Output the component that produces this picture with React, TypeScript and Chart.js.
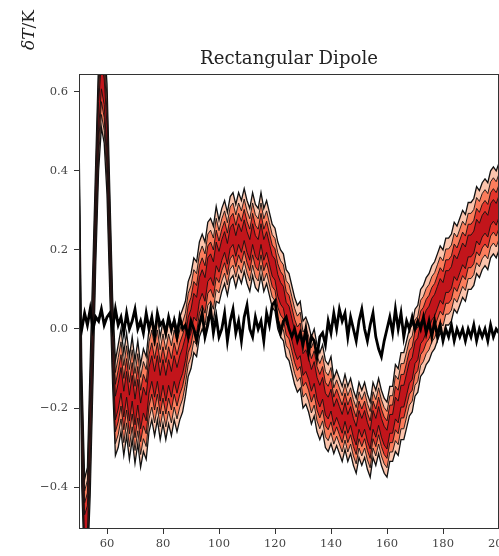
import React, { useEffect, useRef } from 'react';
import { Chart, registerables } from 'chart.js';

Chart.register(...registerables);

// x sample grid (multipole index), 50..200
const xGrid: number[] = Array.from({ length: 151 }, (_, i) => 50 + i);

// median of the reconstructed signal (δT/K)
const medianValues: number[] = [
  0.40, -0.25, -0.50, -0.48, -0.25, 0.02, 0.30, 0.54, 0.64, 0.60,
  0.48, 0.22, -0.03, -0.20, -0.17, -0.13, -0.19, -0.14, -0.20, -0.15,
  -0.21, -0.16, -0.22, -0.18, -0.20, -0.13, -0.10, -0.14, -0.10, -0.15,
  -0.11, -0.15, -0.11, -0.14, -0.10, -0.13, -0.10, -0.08, -0.05, 0.00,
  0.02, 0.06, 0.05, 0.10, 0.12, 0.10, 0.15, 0.16, 0.14, 0.19,
  0.17, 0.20, 0.22, 0.19, 0.23, 0.24, 0.21, 0.24, 0.22, 0.25,
  0.22, 0.20, 0.24, 0.21, 0.20, 0.24, 0.20, 0.22, 0.19, 0.16,
  0.15, 0.11, 0.09, 0.08, 0.04, 0.03, 0.00, -0.03, -0.05, -0.04,
  -0.09, -0.08, -0.10, -0.13, -0.11, -0.15, -0.17, -0.15, -0.19, -0.20,
  -0.18, -0.22, -0.20, -0.22, -0.24, -0.21, -0.24, -0.22, -0.25, -0.27,
  -0.23, -0.25, -0.23, -0.26, -0.28, -0.23, -0.25, -0.22, -0.25, -0.27,
  -0.28, -0.24, -0.24, -0.20, -0.21, -0.17, -0.17, -0.14, -0.11, -0.10,
  -0.06, -0.05, -0.01, 0.00, 0.02, 0.03, 0.05, 0.06, 0.08, 0.10,
  0.09, 0.12, 0.12, 0.13, 0.16, 0.15, 0.17, 0.19, 0.18, 0.21,
  0.21, 0.22, 0.25, 0.24, 0.26, 0.27, 0.26, 0.29, 0.30, 0.29,
  0.31,
];

// outer half-width of the credible band
const spreadValues: number[] = [
  0.10, 0.15, 0.12, 0.13, 0.17, 0.15, 0.13, 0.14, 0.13, 0.13,
  0.14, 0.13, 0.11, 0.12, 0.13, 0.13, 0.13, 0.13, 0.13, 0.13,
  0.13, 0.13, 0.13, 0.13, 0.13, 0.13, 0.13, 0.13, 0.13, 0.13,
  0.13, 0.13, 0.13, 0.13, 0.13, 0.13, 0.13, 0.13, 0.12, 0.12,
  0.12, 0.12, 0.12, 0.12, 0.12, 0.12, 0.12, 0.12, 0.12, 0.12,
  0.105, 0.105, 0.105, 0.105, 0.105, 0.105, 0.105, 0.105, 0.105, 0.105,
  0.105, 0.105, 0.105, 0.105, 0.105, 0.105, 0.105, 0.105, 0.105, 0.105,
  0.105, 0.11, 0.11, 0.11, 0.11, 0.11, 0.11, 0.11, 0.11, 0.11,
  0.11, 0.11, 0.11, 0.11, 0.11, 0.11, 0.11, 0.11, 0.11, 0.11,
  0.11, 0.095, 0.095, 0.095, 0.095, 0.095, 0.095, 0.095, 0.095, 0.095,
  0.095, 0.095, 0.095, 0.095, 0.095, 0.095, 0.095, 0.095, 0.095, 0.095,
  0.095, 0.095, 0.095, 0.11, 0.11, 0.11, 0.11, 0.11, 0.11, 0.11,
  0.11, 0.11, 0.11, 0.11, 0.11, 0.11, 0.11, 0.11, 0.11, 0.11,
  0.11, 0.11, 0.11, 0.11, 0.11, 0.11, 0.11, 0.11, 0.11, 0.11,
  0.11, 0.11, 0.11, 0.11, 0.11, 0.11, 0.11, 0.11, 0.11, 0.11,
  0.11,
];

// black noisy reference line
const noiseValues: number[] = [
  0.03, 0.00, 0.04, 0.01, 0.05, 0.00, 0.03, 0.02, 0.05, 0.01,
  0.03, 0.04, 0.00, 0.05, 0.01, 0.03, -0.01, 0.04, 0.00, 0.02,
  0.05, 0.00, 0.02, -0.01, 0.04, 0.00, 0.03, -0.02, 0.04, 0.01,
  0.02, -0.01, 0.03, 0.00, 0.02, -0.02, 0.03, 0.00, 0.01, -0.02,
  0.02, 0.00, -0.03, 0.01, 0.04, -0.02, 0.01, 0.05, -0.01, 0.03,
  -0.02, 0.00, 0.04, -0.03, 0.02, 0.05, -0.01, 0.02, -0.03, 0.03,
  0.06, 0.00, -0.02, 0.03, 0.00, 0.02, -0.03, 0.04, 0.01, 0.06,
  0.07, 0.02, -0.01, 0.02, 0.03, 0.00, -0.02, 0.00, -0.03, -0.01,
  -0.04, 0.00, -0.06, -0.02, -0.03, -0.07, -0.02, -0.01, -0.04, 0.02,
  -0.01, 0.04, 0.00, 0.05, 0.02, 0.04, -0.02, 0.03, 0.00, -0.03,
  0.02, 0.05, 0.00, -0.03, 0.01, 0.04, -0.02, -0.05, -0.07, -0.03,
  0.00, 0.03, -0.01, 0.05, 0.00, 0.04, -0.02, 0.02, 0.00, 0.03,
  0.00, 0.02, 0.00, 0.03, -0.01, 0.02, -0.02, 0.02, -0.02, 0.01,
  -0.03, 0.00, -0.02, 0.01, -0.03, 0.00, -0.02, 0.00, -0.03, 0.00,
  -0.02, 0.01, -0.03, 0.00, -0.02, 0.00, -0.03, 0.01, -0.02, 0.00,
  -0.01,
];

const bandFractions = [1, 0.75, 0.5, 0.25];
const bandColors = ['#fcc4ac', '#fb7d5c', '#e3352b', '#c2151b'];
const xTickValues = [60, 80, 100, 120, 140, 160, 180, 200];
const yTickValues = [-0.4, -0.2, 0.0, 0.2, 0.4, 0.6];
const titleText = 'Rectangular Dipole';

const fmtY = (v: number) => {
  if (Math.abs(v) < 1e-9) return '0.0';
  return (v < 0 ? '\u2212' : '') + Math.abs(v).toFixed(1);
};

export default function App() {
  const ref = useRef<HTMLCanvasElement>(null);

  useEffect(() => {
    if (!ref.current) return;
    const datasets: any[] = [];
    bandFractions.forEach((f, i) => {
      const upper = xGrid.map((x, k) => ({ x, y: medianValues[k] + f * spreadValues[k] }));
      const lower = xGrid.map((x, k) => ({ x, y: medianValues[k] - f * spreadValues[k] }));
      const idx = datasets.length;
      const bw = i === 0 ? 1.3 : 0.9;
      datasets.push({
        data: upper, borderColor: '#111', borderWidth: bw, pointRadius: 0,
        fill: false, order: 10 - i, tension: 0,
      });
      datasets.push({
        data: lower, borderColor: '#111', borderWidth: bw, pointRadius: 0,
        fill: { target: idx }, backgroundColor: bandColors[i], order: 10 - i, tension: 0,
      });
    });
    datasets.push({
      data: xGrid.map((x, k) => ({ x, y: noiseValues[k] })),
      borderColor: '#000', borderWidth: 2.8, pointRadius: 0, fill: false, order: 0, tension: 0,
    });

    const decor = {
      id: 'decor',
      afterDraw(chart: any) {
        const { ctx, chartArea } = chart;
        ctx.save();
        ctx.strokeStyle = '#333';
        ctx.lineWidth = 1;
        ctx.strokeRect(chartArea.left + 0.5, chartArea.top + 0.5,
          chartArea.right - chartArea.left - 1, chartArea.bottom - chartArea.top - 1);
        // title
        ctx.fillStyle = '#222';
        ctx.font = '18px "DejaVu Serif"';
        const w = ctx.measureText(titleText).width;
        const size = 18 * 178 / w;
        ctx.font = `${size.toFixed(2)}px "DejaVu Serif"`;
        ctx.textAlign = 'center';
        ctx.textBaseline = 'alphabetic';
        ctx.fillText(titleText, (chartArea.left + chartArea.right) / 2, 64);
        // y label
        ctx.translate(34, 30);
        ctx.rotate(-Math.PI / 2);
        ctx.textAlign = 'left';
        const itFont = 'italic 17px "DejaVu Serif"';
        const upFont = '17px "DejaVu Serif"';
        ctx.font = itFont;
        const w1 = ctx.measureText('\u03b4T').width;
        ctx.font = upFont;
        const w2 = ctx.measureText('/K').width;
        const start = -(w1 + w2) / 2;
        ctx.font = itFont;
        ctx.fillText('\u03b4T', start, 0);
        ctx.font = upFont;
        ctx.fillText('/K', start + w1, 0);
        ctx.restore();
      },
    };

    const tickFont = { family: '"DejaVu Serif"', size: 11.5 };
    const chart = new Chart(ref.current, {
      type: 'line',
      data: { datasets },
      options: {
        animation: false,
        responsive: false,
        maintainAspectRatio: false,
        devicePixelRatio: 1,
        layout: { padding: { top: 74, left: 0, right: 0, bottom: 0 } },
        plugins: { legend: { display: false }, tooltip: { enabled: false }, title: { display: false } },
        scales: {
          x: {
            type: 'linear', min: 50, max: 200,
            grid: { drawOnChartArea: false, drawTicks: true, tickLength: 5, color: '#333' },
            border: { display: false },
            ticks: { font: tickFont, color: '#444', padding: 3, autoSkip: false, maxRotation: 0 },
            afterBuildTicks: (s: any) => { s.ticks = xTickValues.map((v) => ({ value: v })); },
            afterFit: (s: any) => {
              s.height = 27; s.paddingLeft = 0; s.paddingRight = 0; s.paddingTop = 0; s.paddingBottom = 0;
            },
          },
          y: {
            type: 'linear', min: -0.506, max: 0.645,
            grid: { drawOnChartArea: false, drawTicks: true, tickLength: 5, color: '#333' },
            border: { display: false },
            ticks: { font: tickFont, color: '#444', padding: 6, autoSkip: false, callback: (v: any) => fmtY(Number(v)) },
            afterBuildTicks: (s: any) => { s.ticks = yTickValues.map((v) => ({ value: v })); },
            afterFit: (s: any) => {
              s.width = 79; s.paddingLeft = 0; s.paddingRight = 0; s.paddingTop = 0; s.paddingBottom = 0;
            },
          },
        },
      } as any,
      plugins: [decor],
    });
    return () => chart.destroy();
  }, []);

  return (
    <div style={{ position: 'absolute', left: 0, top: 0, width: 499, height: 556, background: '#fff' }}>
      <canvas ref={ref} width={499} height={556} style={{ width: 499, height: 556, display: 'block' }} />
    </div>
  );
}
